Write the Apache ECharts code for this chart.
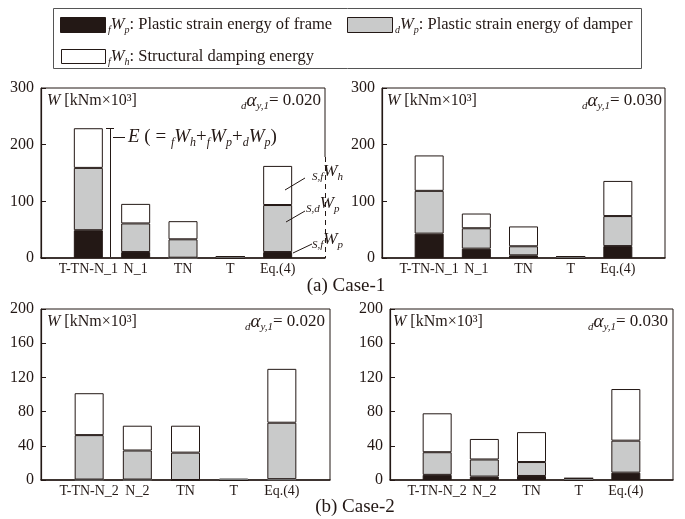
<!DOCTYPE html>
<html><head><meta charset="utf-8">
<script src="https://cdn.jsdelivr.net/npm/echarts@6/dist/echarts.min.js"></script>
<style>html,body{margin:0;padding:0;background:#fff}#c{width:685px;height:519px}</style>
</head><body><div id="c"></div>
<script>
// ---------- data ----------
const cats1 = ['T-TN-N_1', 'N_1', 'TN', 'T', 'Eq.(4)'];
const cats2 = ['T-TN-N_2', 'N_2', 'TN', 'T', 'Eq.(4)'];
// Case-1, dαy,1 = 0.020
const c1a_fWp = [49, 10.5, 0.5, 0, 10.5];
const c1a_dWp = [110, 50.5, 32.5, 2.5, 83];
const c1a_fWh = [70, 34.5, 32, 0, 69];
// Case-1, dαy,1 = 0.030
const c1b_fWp = [43, 16.5, 4.7, 0, 21];
const c1b_dWp = [75.5, 36, 16, 2.5, 53];
const c1b_fWh = [62.5, 26, 35, 0, 62];
// Case-2, dαy,1 = 0.020
const c2a_fWp = [0.5, 0.5, 0, 0, 1];
const c2a_dWp = [52, 34, 32, 0, 66];
const c2a_fWh = [49, 29, 31.5, 2, 63];
// Case-2, dαy,1 = 0.030
const c2b_fWp = [6, 4, 4.7, 0, 8.6];
const c2b_dWp = [26.5, 20, 16.3, 2, 37.4];
const c2b_fWh = [45.5, 24, 35, 0, 60.4];
// axis ranges
const yMax1 = 300, yStep1 = 100;
const yMax2 = 200, yStep2 = 40;

// ---------- styles ----------
const FONT = "'Liberation Serif','Times New Roman',serif";
const INK = '#231815';
const BLACK = '#231815', GRAY = '#c9caca', WHITE = '#ffffff';

const grids = [
  {left: 41, top: 88, width: 284, height: 170},
  {left: 382, top: 88, width: 283, height: 170},
  {left: 41, top: 309, width: 289, height: 171},
  {left: 390, top: 309, width: 283, height: 171}
];
const panels = [
  {cats: cats1, s: [c1a_fWp, c1a_dWp, c1a_fWh], max: yMax1, step: yStep1},
  {cats: cats1, s: [c1b_fWp, c1b_dWp, c1b_fWh], max: yMax1, step: yStep1},
  {cats: cats2, s: [c2a_fWp, c2a_dWp, c2a_fWh], max: yMax2, step: yStep2},
  {cats: cats2, s: [c2b_fWp, c2b_dWp, c2b_fWh], max: yMax2, step: yStep2}
];
const segNames = ['fWp', 'dWp', 'fWh'];
const segColors = [BLACK, GRAY, WHITE];

// pad with empty slots at both ends; tiny bars get a softer outline
const pad = arr => ['-'].concat(arr.map(v => (v > 0 && v < 3) ? {value: v, itemStyle: {borderColor: '#7a7a7a'}} : v), ['-']);

const xAxes = [], yAxes = [], series = [];
panels.forEach((p, i) => {
  xAxes.push({
    type: 'category', gridIndex: i, data: [''].concat(p.cats, ['']),
    boundaryGap: false,
    axisTick: {show: false},
    axisLine: {lineStyle: {color: INK, width: 1.5}},
    axisLabel: {interval: 0, color: INK, fontFamily: FONT, fontSize: 14, margin: 4},
    splitLine: {show: false}
  });
  yAxes.push({
    type: 'value', gridIndex: i, min: 0, max: p.max, interval: p.step,
    axisLine: {show: true, lineStyle: {color: INK, width: 1.2}},
    axisTick: {show: true, inside: true, length: 5, lineStyle: {color: INK}},
    axisLabel: {color: INK, fontFamily: FONT, fontSize: 16, margin: 7},
    splitLine: {show: false}
  });
  p.s.forEach((vals, k) => {
    series.push({
      type: 'bar', name: segNames[k], xAxisIndex: i, yAxisIndex: i,
      stack: 'p' + i, data: pad(vals), barWidth: 29,
      itemStyle: {color: segColors[k], borderColor: INK, borderWidth: 1},
      emphasis: {disabled: true}, silent: true
    });
  });
});

// ---------- rich text helpers ----------
function rich(fs) {
  return {
    t: {fontFamily: FONT, fontSize: fs, fill: INK},
    w: {fontFamily: FONT, fontSize: fs, fontStyle: 'italic', fill: INK},
    a: {fontFamily: FONT, fontSize: fs + 2, fontStyle: 'italic', fill: INK},
    sub: {fontFamily: FONT, fontSize: Math.round(fs * 0.62), fontStyle: 'italic', fill: INK, verticalAlign: 'bottom'},
    pre: {fontFamily: FONT, fontSize: Math.round(fs * 0.62), fontStyle: 'italic', fill: INK, verticalAlign: 'bottom'}
  };
}
function txt(x, y, text, fs, align) {
  return {
    type: 'text', x: x, y: y, z: 100, silent: true,
    style: {text: text, rich: rich(fs), fontFamily: FONT, fontSize: fs, fill: INK,
      align: align || 'left', verticalAlign: 'middle', lineHeight: fs + 4}
  };
}

const graphics = [];
// legend box
graphics.push({type: 'rect', shape: {x: 53.5, y: 8.5, width: 588, height: 60}, style: {fill: 'none', stroke: '#555', lineWidth: 1}});
graphics.push({type: 'rect', shape: {x: 60.5, y: 17.5, width: 45, height: 15}, style: {fill: BLACK, stroke: INK, lineWidth: 1}});
graphics.push(txt(108, 25, '{pre|f}{w|W}{sub|p}{t|: Plastic strain energy of frame}', 16.5));
graphics.push({type: 'rect', shape: {x: 347.5, y: 17.5, width: 45, height: 15}, style: {fill: GRAY, stroke: INK, lineWidth: 1}});
graphics.push(txt(395, 25, '{pre|d}{w|W}{sub|p}{t|: Plastic strain energy of damper}', 16.5));
graphics.push({type: 'rect', shape: {x: 61.5, y: 49.5, width: 44, height: 14}, style: {fill: WHITE, stroke: INK, lineWidth: 1}});
graphics.push(txt(108, 57, '{pre|f}{w|W}{sub|h}{t|: Structural damping energy}', 16.5));

// panel headers
const headers = [
  {lx: 47, rx: 321, y: 101, a: '0.020'},
  {lx: 387, rx: 662, y: 101, a: '0.030'},
  {lx: 47, rx: 325, y: 322, a: '0.020'},
  {lx: 393, rx: 668, y: 322, a: '0.030'}
];
headers.forEach(h => {
  graphics.push(txt(h.lx, h.y, '{w|W}{t| [kNm×10³]}', 16));
  graphics.push(txt(h.rx, h.y, '{pre|d}{a|α}{sub|y,1}{t|= ' + h.a + '}', 17, 'right'));
});

// case titles
graphics.push(txt(346, 286, '{t|(a) Case-1}', 19, 'center'));
graphics.push(txt(355, 507, '{t|(b) Case-2}', 19, 'center'));

// panel 1 annotations: E bracket
const L = (x1, y1, x2, y2, dash) => ({type: 'line', z: 100, silent: true,
  shape: {x1: x1, y1: y1, x2: x2, y2: y2}, style: {stroke: INK, lineWidth: 1, lineDash: dash || null}});
graphics.push(L(106, 128.5, 114, 128.5));
graphics.push(L(110.5, 128.5, 110.5, 257));
graphics.push(L(113, 137.5, 125, 137.5));
graphics.push(txt(128, 137, '{w|E}{t| ( = }{pre|f}{w|W}{sub|h}{t|+}{pre|f}{w|W}{sub|p}{t|+}{pre|d}{w|W}{sub|p}{t|)}', 19));

// right border dashed for panel 1
graphics.push({type: 'rect', z: 99, silent: true, shape: {x: 322, y: 157, width: 6, height: 100}, style: {fill: '#fff'}});
graphics.push(L(325.5, 157, 325.5, 258, [5, 4]));
// leader lines and labels at Eq.(4)
graphics.push(L(285, 190, 305, 178));
graphics.push(L(286, 222, 305, 211));
graphics.push(L(293, 253, 312, 244));
graphics.push(txt(312, 172, '{pre|S,f}{w|W}{sub|h}', 17));
graphics.push(txt(306, 204, '{pre|S,d}{w|W}{sub|p}', 17));
graphics.push(txt(312, 240, '{pre|S,f}{w|W}{sub|p}', 17));

const chart = echarts.init(document.getElementById('c'), null, {renderer: 'canvas'});
chart.setOption({
  animation: false,
  backgroundColor: '#fff',
  grid: grids.map(g => Object.assign({show: true, borderColor: INK, borderWidth: 1, backgroundColor: 'transparent', containLabel: false}, g)),
  xAxis: xAxes,
  yAxis: yAxes,
  series: series,
  graphic: {elements: graphics}
});
</script></body></html>
